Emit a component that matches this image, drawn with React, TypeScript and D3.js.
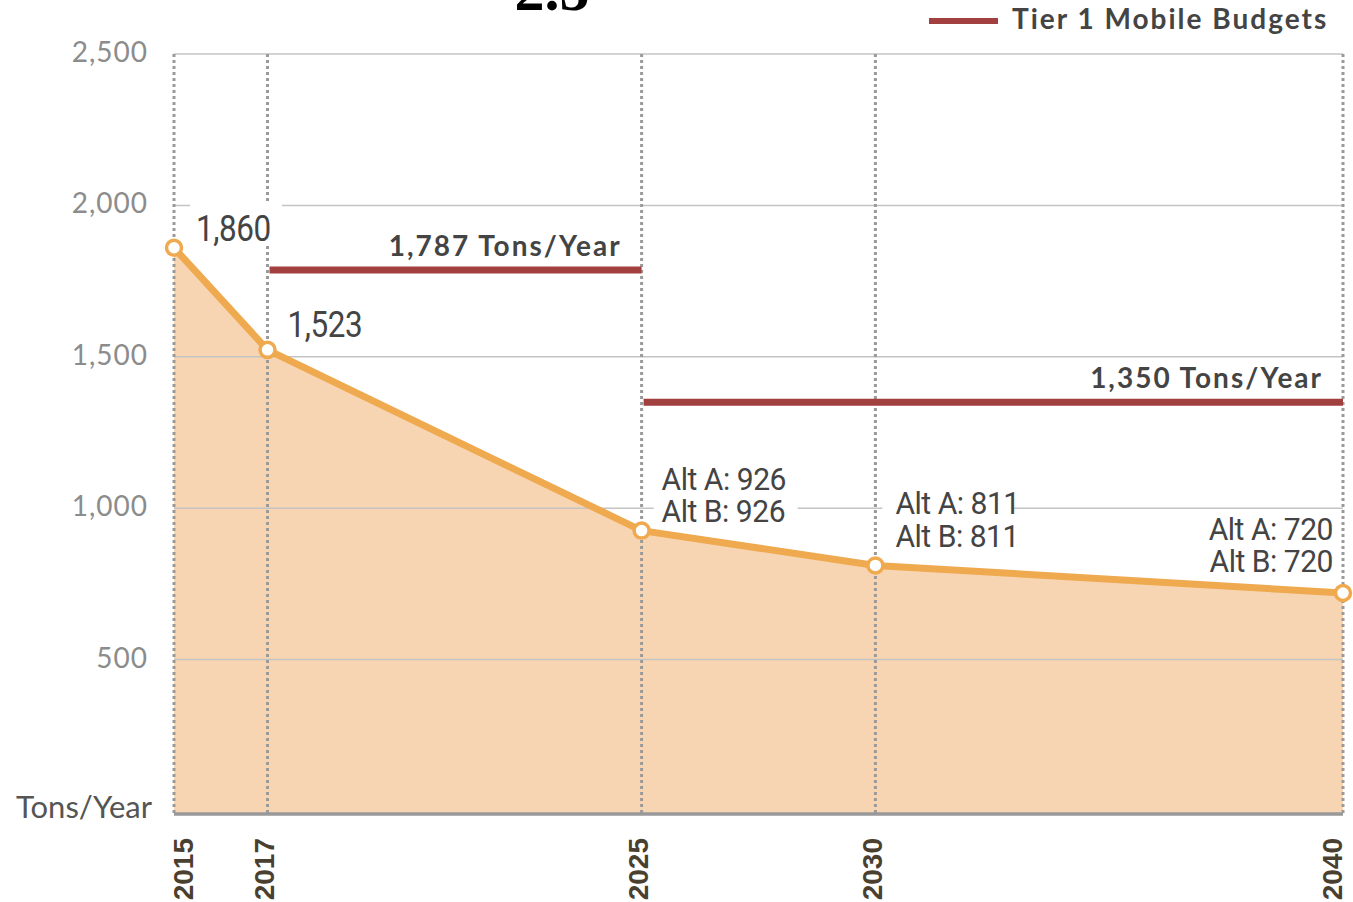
import React from "react";
import * as d3 from "d3";

const years = [2015, 2017, 2025, 2030, 2040];
const emissions = [1860, 1523, 926, 811, 720];
const pointLabels = [["1,860"], ["1,523"], ["Alt A: 926", "Alt B: 926"], ["Alt A: 811", "Alt B: 811"], ["Alt A: 720", "Alt B: 720"]];
const budgetStarts = [2017, 2025];
const budgetEnds = [2025, 2040];
const budgetValues = [1787, 1350];
const budgetLabels = ["1,787 Tons/Year", "1,350 Tons/Year"];
const yTicks = [500, 1000, 1500, 2000, 2500];
const yTickLabels = ["500", "1,000", "1,500", "2,000", "2,500"];
const legendLabel = "Tier 1 Mobile Budgets";
const yAxisTitle = "Tons/Year";
const titleText = "2.5";

const W = 1353;
const H = 902;
const X0 = 174, X1 = 1343, Y0 = 811, Y1 = 54;

const ORANGE = "#efa94f";
const FILL = "#f8d5b2";
const RED = "#a23f3f";
const TEXT = "#444";
const narrow = "Roboto, 'Open Sans', sans-serif";
const sans = "Lato, 'Open Sans', sans-serif";

// label placement config (dx, dy of first line, anchor, font size, horizontal squeeze, background box)
const labelCfg = [
  { dx: 22, dy: -7, anchor: "start", size: 37, sx: 0.85, bg: [16, -45, 92, 42] },
  { dx: 20, dy: -13, anchor: "start", size: 37, sx: 0.85, bg: null },
  { dx: 20, dy: -41, anchor: "start", size: 31, sx: 0.97, bg: [12, -72, 144, 70] },
  { dx: 20, dy: -51, anchor: "start", size: 31, sx: 0.97, bg: [7, -82, 129, 72] },
  { dx: -10, dy: -53, anchor: "end", size: 31, sx: 0.97, bg: null },
];

export default function App() {
  const x = d3.scaleLinear().domain([2015, 2040]).range([X0, X1]);
  const y = d3.scaleLinear().domain([0, 2500]).range([Y0, Y1]);
  const pts = years.map((yr, i) => [x(yr), y(emissions[i])] as [number, number]);
  const area = d3.area<[number, number]>().x((d) => d[0]).y0(Y0 + 2).y1((d) => d[1])(pts) || "";
  const line = d3.line<[number, number]>().x((d) => d[0]).y((d) => d[1])(pts) || "";

  return (
    <svg width={W} height={H} style={{ position: "absolute", left: 0, top: 0, background: "#fff" }}>
      <text x={552} y={10} textAnchor="middle" fontFamily="'Liberation Serif', serif" fontWeight="bold" fontSize={60} fill="#000">{titleText}</text>

      {/* legend */}
      <line x1={929} x2={998} y1={21} y2={21} stroke={RED} strokeWidth={6} />
      <text x={1012} y={29} fontFamily={sans} fontWeight={700} fontSize={28} letterSpacing={2} fill={TEXT}>{legendLabel}</text>

      {/* area */}
      <path d={area} fill={FILL} />

      {/* gridlines */}
      {yTicks.map((t) => (
        <line key={t} x1={X0} x2={X1} y1={y(t)} y2={y(t)} stroke="#c4c4c4" strokeWidth={1.5} />
      ))}

      {/* vertical dotted lines */}
      {years.map((yr) => (
        <line key={yr} x1={x(yr)} x2={x(yr)} y1={Y1} y2={Y0 + 2} stroke="#9a9a9a" strokeWidth={3} strokeDasharray="3 3" />
      ))}

      {/* baseline */}
      <line x1={X0} x2={X1} y1={Y0 + 3} y2={Y0 + 3} stroke="#999" strokeWidth={3.5} />

      {/* label backgrounds */}
      {pts.map((p, i) => {
        const b = labelCfg[i].bg;
        return b ? <rect key={i} x={p[0] + b[0]} y={p[1] + b[1]} width={b[2]} height={b[3]} fill="#fff" /> : null;
      })}

      {/* y tick labels */}
      {yTicks.map((t, i) => (
        <text key={t} x={148} y={y(t) + 8} textAnchor="end" fontFamily={sans} fontSize={28} letterSpacing={1} fill="#8c8c8c">{yTickLabels[i]}</text>
      ))}
      <text x={152} y={818} textAnchor="end" fontFamily={sans} fontSize={31} fill="#555">{yAxisTitle}</text>

      {/* x labels */}
      {years.map((yr) => {
        const lx = Math.min(Math.max(x(yr) - 3, X0 + 9), X1 - 11);
        return (
          <text key={yr} transform={`translate(${lx},838) rotate(-90)`} textAnchor="end" dy="0.35em" fontFamily="'Liberation Sans', Arial, sans-serif" fontWeight="bold" fontSize={28} fill="#4a4030">{yr}</text>
        );
      })}

      {/* budget lines */}
      {budgetValues.map((v, i) => (
        <g key={i}>
          <line x1={x(budgetStarts[i]) + 2} x2={x(budgetEnds[i])} y1={y(v)} y2={y(v)} stroke={RED} strokeWidth={7} />
          <text x={x(budgetEnds[i]) - 20} y={y(v) - 14} textAnchor="end" fontFamily={sans} fontWeight={700} fontSize={28} letterSpacing={2} fill={TEXT}>{budgetLabels[i]}</text>
        </g>
      ))}

      {/* data line */}
      <path d={line} fill="none" stroke={ORANGE} strokeWidth={7} strokeLinejoin="round" />
      {pts.map((p, i) => (
        <circle key={i} cx={p[0]} cy={p[1]} r={7.5} fill="#fff" stroke={ORANGE} strokeWidth={3.5} />
      ))}

      {/* point labels */}
      {pts.map((p, i) => {
        const c = labelCfg[i];
        return (
          <g key={i} transform={`translate(${p[0] + c.dx},${p[1] + c.dy}) scale(${c.sx},1)`}>
            <text textAnchor={c.anchor} fontFamily={narrow} fontSize={c.size} fill={TEXT} letterSpacing={-0.5}>
              {pointLabels[i].map((l, j) => (
                <tspan key={j} x={0} dy={j === 0 ? 0 : 32.5}>{l}</tspan>
              ))}
            </text>
          </g>
        );
      })}
    </svg>
  );
}
